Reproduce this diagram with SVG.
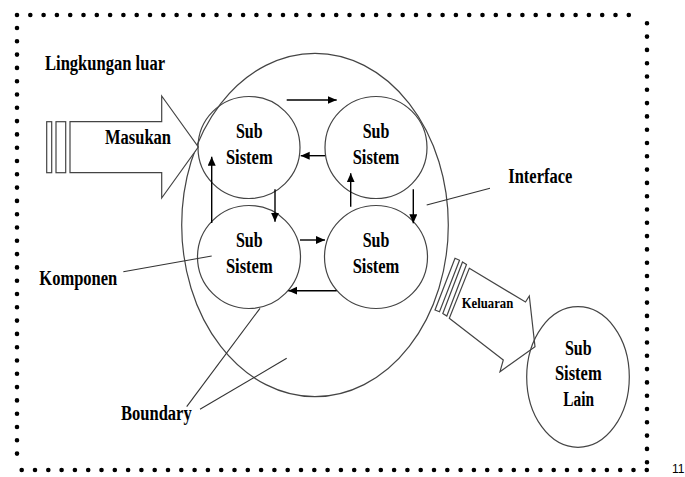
<svg xmlns="http://www.w3.org/2000/svg" width="685" height="477" viewBox="0 0 685 477">
<style>
.dots{fill:none;stroke:#000;stroke-width:4.6;stroke-linecap:round;stroke-dasharray:0 13.3}
.shape{fill:none;stroke:#444;stroke-width:1.2}
.fillshape{fill:#fff;stroke:#444;stroke-width:1.2}
text{font-family:'Liberation Serif','Times New Roman',serif;font-size:20px;font-weight:bold;fill:#000}
.c{text-anchor:middle}
.conn{fill:none;stroke:#000;stroke-width:1.4}
.lead{fill:none;stroke:#333;stroke-width:1.1}
</style>
<defs>
<marker id="ah" markerUnits="userSpaceOnUse" markerWidth="10" markerHeight="9" refX="9" refY="4" orient="auto">
<path d="M0,0 L9,4 L0,8 z" fill="#000"/>
</marker>
</defs>
<rect width="685" height="477" fill="#fff"/>
<g id="frame">
<path class="dots" d="M17,15 H642"/>
<path class="dots" d="M647,23.3 V470"/>
<path class="dots" d="M21.7,470 H647"/>
<path class="dots" d="M17,28 V465"/>
</g>
<g id="boundary">
<ellipse class="shape" cx="315" cy="225" rx="133.3" ry="171.7"/>
</g>
<g id="input-arrow">
<rect class="shape" x="46.7" y="121.7" width="5" height="51"/>
<rect class="shape" x="56" y="121.7" width="9.7" height="51"/>
<polygon class="fillshape" points="70,121.7 161.7,121.7 161.7,96 198.3,147 161.7,198 161.7,172.7 70,172.7"/>
<text x="105" y="144" textLength="66" lengthAdjust="spacingAndGlyphs">Masukan</text>
</g>
<g id="sub1">
<circle class="shape" cx="249" cy="147.5" r="51"/>
<text class="c" x="249.3" y="137.7" textLength="26.7" lengthAdjust="spacingAndGlyphs">Sub</text>
<text class="c" x="249.3" y="164.3" textLength="46.7" lengthAdjust="spacingAndGlyphs">Sistem</text>
</g>
<g id="sub2">
<circle class="shape" cx="376" cy="147.5" r="51"/>
<text class="c" x="376" y="137.7" textLength="26.7" lengthAdjust="spacingAndGlyphs">Sub</text>
<text class="c" x="376" y="164.3" textLength="46.7" lengthAdjust="spacingAndGlyphs">Sistem</text>
</g>
<g id="sub3">
<circle class="shape" cx="249" cy="257" r="51.5"/>
<text class="c" x="249.3" y="246.7" textLength="26.7" lengthAdjust="spacingAndGlyphs">Sub</text>
<text class="c" x="249.3" y="273.3" textLength="46.7" lengthAdjust="spacingAndGlyphs">Sistem</text>
</g>
<g id="sub4">
<circle class="shape" cx="376" cy="257" r="51.5"/>
<text class="c" x="376" y="246.7" textLength="26.7" lengthAdjust="spacingAndGlyphs">Sub</text>
<text class="c" x="376" y="273.3" textLength="46.7" lengthAdjust="spacingAndGlyphs">Sistem</text>
</g>
<g id="output-arrow">
<polygon class="fillshape" points="455,258.3 459.5,260.3 439.5,311.8 435,310"/>
<polygon class="fillshape" points="462.5,262 466.5,264.5 446.8,316 442.8,313.5"/>
<polygon class="fillshape" points="469.3,268.3 525.5,302 529.3,296 535,346.7 500,371.7 503.3,360 449.3,318.3"/>
<text x="461.7" y="308.3" style="font-size:15px" textLength="51.6" lengthAdjust="spacingAndGlyphs">Keluaran</text>
</g>
<g id="sub-lain">
<ellipse class="shape" cx="578" cy="377" rx="51.3" ry="70.3"/>
<text class="c" x="578.3" y="355" textLength="26.7" lengthAdjust="spacingAndGlyphs">Sub</text>
<text class="c" x="578.3" y="380" textLength="46.7" lengthAdjust="spacingAndGlyphs">Sistem</text>
<text class="c" x="578.7" y="406" textLength="30.7" lengthAdjust="spacingAndGlyphs">Lain</text>
</g>
<g id="labels">
<text x="45" y="70" textLength="120" lengthAdjust="spacingAndGlyphs">Lingkungan luar</text>
<text x="39.3" y="285" textLength="78" lengthAdjust="spacingAndGlyphs">Komponen</text>
<text x="121" y="420" textLength="70.7" lengthAdjust="spacingAndGlyphs">Boundary</text>
<text x="508.3" y="182.7" textLength="64" lengthAdjust="spacingAndGlyphs">Interface</text>
<text x="672" y="473" style="font-family:'Liberation Sans',Arial,sans-serif;font-size:12px;font-weight:normal">11</text>
</g>
<g id="connectors">
<path class="conn" d="M286.7,100 H336.7" marker-end="url(#ah)"/>
<path class="conn" d="M325,155.7 H300.7" marker-end="url(#ah)"/>
<path class="conn" d="M211.7,223 V156.7" marker-end="url(#ah)"/>
<path class="conn" d="M275,189.3 V221.7" marker-end="url(#ah)"/>
<path class="conn" d="M350.7,206.7 V173.3" marker-end="url(#ah)"/>
<path class="conn" d="M413.3,189.3 V223.3" marker-end="url(#ah)"/>
<path class="conn" d="M300,240 H325" marker-end="url(#ah)"/>
<path class="conn" d="M336.7,290.7 H288.3" marker-end="url(#ah)"/>
<path class="lead" d="M123.3,271.7 L211.7,256"/>
<path class="lead" d="M186.7,406.7 L260,308.3"/>
<path class="lead" d="M200,409.3 L286.7,358.3"/>
<path class="lead" d="M426.7,205 L490,188.3"/>
</g>
</svg>
